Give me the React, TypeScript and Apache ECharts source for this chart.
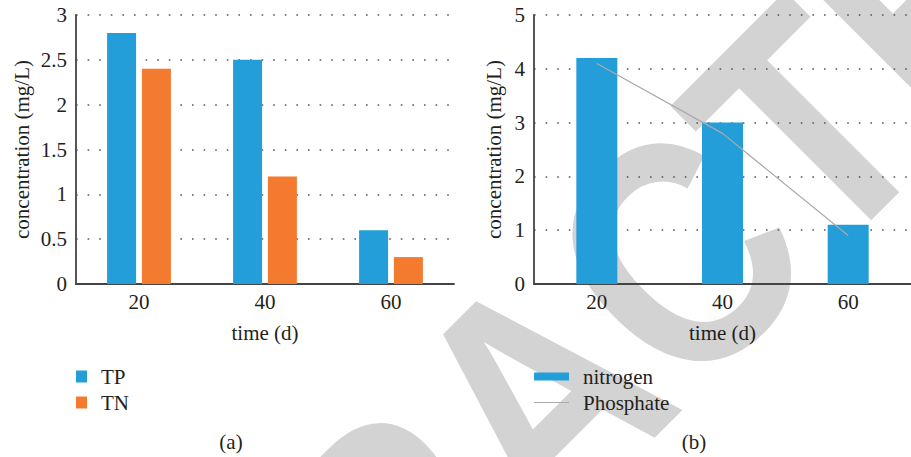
import React, { useEffect, useRef } from "react";
import * as echarts from "echarts";

const days = ["20", "40", "60"];
const tpValues = [2.8, 2.5, 0.6];
const tnValues = [2.4, 1.2, 0.3];
const nitrogenValues = [4.2, 3.0, 1.1];
const phosphateValues = [4.1, 2.8, 0.9];

const FONT = "Liberation Serif, Times New Roman, serif";
const BLUE = "#239ed9";
const ORANGE = "#f37a2e";
const TEXT = "#231f20";
const FS = 21;

// watermark letters (decoration), centre positions in pixels
const stampLetters = [
  { ch: "R", x: 398, y: 536 },
  { ch: "A", x: 538, y: 396 },
  { ch: "C", x: 678, y: 256 },
  { ch: "T", x: 806, y: 127 },
  { ch: "E", x: 930, y: 3 },
];

export default function App() {
  const ref = useRef<HTMLDivElement>(null);
  useEffect(() => {
    if (!ref.current) return;
    const chart = echarts.init(ref.current, null, { renderer: "svg" });
    const splitLine = {
      show: true,
      lineStyle: { color: "#555", width: 1.6, type: [1.6, 10] as any },
    };
    const axisLine = { show: true, lineStyle: { color: "#444", width: 1.8 } };
    const xAxisBase = {
      type: "category" as const,
      data: days,
      axisLine,
      axisTick: { show: false },
      axisLabel: { fontSize: FS, color: TEXT, fontFamily: FONT, margin: 7 },
      name: "time (d)",
      nameLocation: "middle" as const,
      nameGap: 38,
      nameTextStyle: { fontSize: FS, color: TEXT, fontFamily: FONT },
      splitLine: { show: false },
    };
    const yAxisBase = {
      type: "value" as const,
      axisLine,
      axisTick: { show: false },
      axisLabel: { fontSize: FS, color: TEXT, fontFamily: FONT, margin: 9 },
      name: "concentration (mg/L)",
      nameLocation: "middle" as const,
      nameTextStyle: { fontSize: FS, color: TEXT, fontFamily: FONT },
      splitLine,
    };
    const legendText = { fontSize: FS, color: TEXT, fontFamily: FONT, padding: [0, 0, 0, 9] };
    const stamp = stampLetters.map((l) => ({
      type: "text",
      z: -10,
      x: l.x,
      y: l.y,
      rotation: Math.PI / 4,
      scaleX: 0.85,
      silent: true,
      style: {
        text: l.ch,
        fill: "#d3d3d3",
        fontSize: 324,
        fontWeight: "bold",
        fontFamily: "Liberation Sans, Arial, sans-serif",
        align: "center",
        verticalAlign: "middle",
      },
    }));
    chart.setOption({
      animation: false,
      textStyle: { fontFamily: FONT },
      grid: [
        { left: 76, top: 15, width: 378, height: 269 },
        { left: 534, top: 15, width: 384, height: 269 },
      ],
      xAxis: [
        { ...xAxisBase, gridIndex: 0 },
        { ...xAxisBase, gridIndex: 1 },
      ],
      yAxis: [
        { ...yAxisBase, gridIndex: 0, min: 0, max: 3, interval: 0.5, nameGap: 44 },
        { ...yAxisBase, gridIndex: 1, min: 0, max: 5, interval: 1, nameGap: 30 },
      ],
      legend: [
        {
          data: ["TP", "TN"],
          orient: "vertical",
          left: 76,
          top: 366,
          padding: 0,
          itemWidth: 11,
          itemHeight: 12,
          itemGap: 5,
          icon: "rect",
          textStyle: legendText,
        },
        {
          data: [
            { name: "nitrogen", icon: "rect" },
            { name: "Phosphate", icon: "path://M0,0L35,0L35,1.2L0,1.2Z" },
          ],
          orient: "vertical",
          left: 534,
          top: 366,
          padding: 0,
          itemWidth: 35,
          itemHeight: 8,
          itemGap: 5,
          textStyle: legendText,
        },
      ],
      graphic: [
        ...stamp,
        {
          type: "text",
          x: 231,
          y: 442,
          style: { text: "(a)", fill: TEXT, fontSize: FS, fontFamily: FONT, align: "center", verticalAlign: "middle" },
        },
        {
          type: "text",
          x: 694,
          y: 442,
          style: { text: "(b)", fill: TEXT, fontSize: FS, fontFamily: FONT, align: "center", verticalAlign: "middle" },
        },
      ],
      series: [
        { name: "TP", type: "bar", xAxisIndex: 0, yAxisIndex: 0, data: tpValues, barWidth: 29, barGap: "20%", itemStyle: { color: BLUE } },
        { name: "TN", type: "bar", xAxisIndex: 0, yAxisIndex: 0, data: tnValues, barWidth: 29, barGap: "20%", itemStyle: { color: ORANGE } },
        { name: "nitrogen", type: "bar", xAxisIndex: 1, yAxisIndex: 1, data: nitrogenValues, barWidth: 41, itemStyle: { color: BLUE } },
        {
          name: "Phosphate",
          type: "line",
          xAxisIndex: 1,
          yAxisIndex: 1,
          data: phosphateValues,
          symbol: "none",
          lineStyle: { color: "#aaaaaa", width: 1.2 },
          itemStyle: { color: "#aaaaaa" },
          z: 5,
        },
      ],
    });
    return () => chart.dispose();
  }, []);
  return (
    <div
      ref={ref}
      style={{ position: "fixed", left: 0, top: 0, width: 911, height: 457, background: "#fff" }}
    />
  );
}
